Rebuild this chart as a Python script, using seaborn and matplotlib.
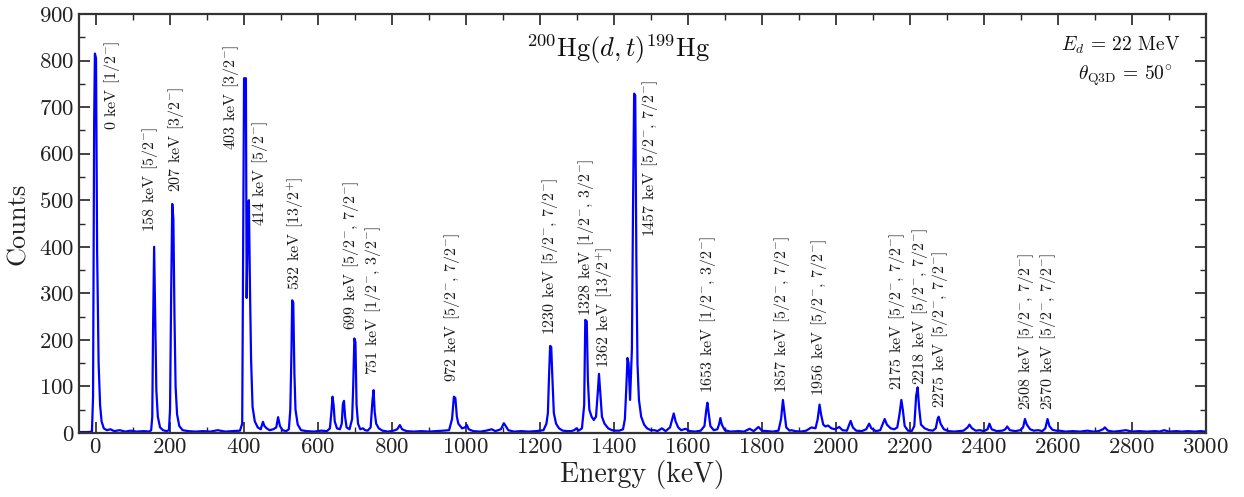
import numpy as np
import pandas as pd
import matplotlib
matplotlib.use("Agg")
import matplotlib.pyplot as plt
import seaborn as sns

# ---------------- data ----------------
energy_kev = [
    -45, -20, -10, -7, -4, -2, 1, 4, 8, 12, 16, 22, 30, 40, 50, 65, 80, 95, 110, 130, 145,
    150, 153, 155, 158, 161, 164, 168, 174, 182, 192,
    198, 201, 204, 207, 210, 213, 216, 220, 226, 235, 250, 270, 290, 310, 330, 350, 370, 390,
    396, 399, 401, 406, 408, 411, 414, 417, 420, 424, 430, 438, 446, 452, 456, 462, 470, 480, 488, 493, 498, 505, 515, 522,
    526, 529, 531, 534, 537, 540, 546, 555, 570, 590, 610, 625, 633,
    637, 640, 643, 646, 652, 660, 665, 668, 671, 674, 678, 686, 693, 696, 699, 702, 705, 709, 715, 722, 728, 735,
    743, 748, 751, 754, 758, 765, 775, 790, 805, 815, 822, 828, 840, 860, 880, 900, 920, 940, 955,
    963, 968, 972, 976, 980, 990, 998, 1003, 1008, 1020, 1040, 1055, 1070, 1080, 1095, 1103, 1108, 1115, 1130, 1150, 1170, 1190, 1210,
    1218, 1222, 1225, 1228, 1231, 1234, 1238, 1244, 1252, 1262, 1275, 1285, 1293, 1299, 1305, 1314,
    1320, 1323, 1327, 1330, 1334, 1340, 1346, 1352, 1357, 1360, 1364, 1368, 1375, 1385, 1395, 1405, 1415, 1425,
    1430, 1434, 1437, 1440, 1444, 1449, 1452, 1455, 1458, 1461, 1464, 1468, 1474, 1482, 1490, 1500, 1510, 1518, 1530, 1540,
    1552, 1558, 1562, 1567, 1574, 1582, 1594, 1605, 1620, 1635,
    1645, 1650, 1653, 1656, 1661, 1670, 1680, 1685, 1688, 1692, 1700, 1715, 1737, 1752, 1767, 1778, 1791, 1800, 1815, 1830, 1845,
    1852, 1857, 1861, 1866, 1875, 1880, 1890, 1905, 1920, 1934, 1945,
    1951, 1956, 1960, 1966, 1972, 1979, 1988, 1998, 2009, 2018, 2030, 2040, 2046, 2055, 2070, 2082, 2090, 2096, 2108, 2120, 2132, 2138, 2148, 2158, 2166,
    2172, 2177, 2181, 2186, 2195, 2205, 2212, 2217, 2221, 2225, 2230, 2240, 2252, 2262,
    2270, 2275, 2278, 2283, 2292, 2305, 2320, 2334, 2345, 2356, 2361, 2368, 2378, 2389, 2400, 2410, 2415, 2421, 2435, 2450, 2458, 2463, 2470, 2485, 2498,
    2506, 2511, 2516, 2525, 2535, 2547, 2558, 2566, 2572, 2577, 2585, 2595, 2604, 2620, 2640, 2660, 2680, 2695, 2710, 2722, 2727, 2735, 2750,
    2765, 2784, 2800, 2820, 2840, 2863, 2875, 2887, 2900, 2920, 2935, 2951, 2970, 2985, 3000,
]
counts = [
    2, 2, 3, 78, 672, 815, 805, 390, 150, 60, 25, 10, 6, 8, 4, 6, 3, 5, 3, 4, 3,
    6, 35, 215, 400, 253, 92, 35, 12, 6, 4,
    6, 50, 296, 492, 460, 250, 100, 40, 15, 6, 4, 3, 4, 3, 6, 3, 4, 5,
    20, 440, 762, 762, 290, 450, 500, 311, 157, 56, 25, 12, 8, 24, 15, 10, 6, 8, 12, 34, 15, 6, 4, 8,
    50, 171, 285, 280, 129, 50, 18, 6, 4, 3, 5, 4, 10,
    45, 78, 60, 25, 10, 8, 20, 62, 69, 35, 12, 8, 30, 103, 203, 195, 60, 20, 8, 10, 6, 5,
    12, 70, 92, 45, 20, 10, 5, 3, 5, 8, 17, 8, 4, 3, 4, 3, 4, 5, 6,
    30, 78, 75, 35, 20, 10, 12, 17, 8, 4, 3, 5, 8, 4, 8, 21, 15, 6, 3, 4, 3, 4, 6,
    20, 43, 121, 187, 185, 121, 43, 20, 10, 5, 4, 4, 6, 10, 5, 10,
    60, 243, 240, 114, 50, 35, 28, 35, 90, 127, 80, 35, 20, 10, 6, 5, 5, 8,
    30, 100, 161, 150, 71, 180, 485, 729, 725, 375, 150, 71, 35, 18, 10, 6, 6, 4, 10, 4,
    12, 30, 42, 25, 12, 6, 9, 4, 3, 5,
    15, 50, 65, 45, 15, 6, 8, 20, 32, 18, 6, 3, 4, 3, 9, 4, 13, 5, 4, 3, 5,
    30, 71, 45, 12, 5, 6, 4, 3, 5, 12, 10,
    30, 61, 40, 18, 14, 16, 10, 8, 13, 6, 5, 26, 12, 5, 4, 8, 20, 10, 4, 6, 30, 18, 10, 8, 12,
    40, 71, 50, 15, 5, 4, 15, 80, 98, 55, 18, 10, 6, 5,
    10, 30, 35, 20, 8, 4, 3, 4, 5, 12, 18, 10, 5, 6, 4, 8, 20, 8, 4, 5, 8, 14, 6, 4, 6,
    12, 30, 18, 8, 5, 6, 4, 10, 30, 15, 7, 5, 5, 3, 4, 3, 5, 3, 4, 8, 12, 5, 3,
    4, 6, 3, 4, 3, 4, 3, 6, 3, 4, 3, 4, 3, 4, 3,
]
assert len(energy_kev) == len(counts)

state_labels = [
    r"0 keV [1/2$^{-}$]",
    r"158 keV [5/2$^{-}$]",
    r"207 keV [3/2$^{-}$]",
    r"403 keV [3/2$^{-}$]",
    r"414 keV [5/2$^{-}$]",
    r"532 keV [13/2$^{+}$]",
    r"699 keV [5/2$^{-}$, 7/2$^{-}$]",
    r"751 keV [1/2$^{-}$, 3/2$^{-}$]",
    r"972 keV [5/2$^{-}$, 7/2$^{-}$]",
    r"1230 keV [5/2$^{-}$, 7/2$^{-}$]",
    r"1328 keV [1/2$^{-}$, 3/2$^{-}$]",
    r"1362 keV [13/2$^{+}$]",
    r"1457 keV [5/2$^{-}$, 7/2$^{-}$]",
    r"1653 keV [1/2$^{-}$, 3/2$^{-}$]",
    r"1857 keV [5/2$^{-}$, 7/2$^{-}$]",
    r"1956 keV [5/2$^{-}$, 7/2$^{-}$]",
    r"2175 keV [5/2$^{-}$, 7/2$^{-}$]",
    r"2218 keV [5/2$^{-}$, 7/2$^{-}$]",
    r"2275 keV [5/2$^{-}$, 7/2$^{-}$]",
    r"2508 keV [5/2$^{-}$, 7/2$^{-}$]",
    r"2570 keV [5/2$^{-}$, 7/2$^{-}$]",
]
label_energy = [43, 146, 216, 365, 443, 540, 689, 749, 962, 1227, 1324, 1376, 1497,
                1654, 1854, 1954, 2165, 2227, 2281, 2514, 2573]
label_count = [651, 432, 518, 608, 445, 307, 221, 125, 110, 210, 251, 140, 421,
               86, 86, 80, 92, 103, 54, 49, 49]

x_ticks = [0, 200, 400, 600, 800, 1000, 1200, 1400, 1600, 1800, 2000, 2200, 2400, 2600, 2800, 3000]
y_ticks = [0, 100, 200, 300, 400, 500, 600, 700, 800, 900]

# ---------------- style ----------------
sns.set_style("ticks")
plt.rcParams.update({
    "font.family": ["serif"],
    "font.serif": ["cmr10", "DejaVu Serif"],
    "mathtext.fontset": "cm",
    "axes.formatter.use_mathtext": True,
    "axes.unicode_minus": False,
    "xtick.direction": "in",
    "ytick.direction": "in",
    "xtick.top": True,
    "ytick.right": True,
    "axes.edgecolor": "#333333",
    "axes.linewidth": 1.6,
})

fig = plt.figure(figsize=(12.44, 4.97), dpi=100)
ax = fig.add_axes([0.0635, 0.1288, 0.9059, 0.843])

df = pd.DataFrame({"Energy": energy_kev, "Counts": counts})
sns.lineplot(data=df, x="Energy", y="Counts", ax=ax, color="#0000ff",
             linewidth=1.6, estimator=None, sort=False)

for txt, ex, cy in zip(state_labels, label_energy, label_count):
    ax.text(ex, cy, txt, rotation=90, ha="center", va="bottom", fontsize=11.5, color="#1a1a1a")

ax.text(0.478, 0.915, r"$^{200}$Hg$(d,t)^{199}$Hg", transform=ax.transAxes,
        ha="center", va="center", fontsize=19, color="#111111")
ax.text(0.977, 0.926, r"$E_d$ = 22 MeV", transform=ax.transAxes,
        ha="right", va="center", fontsize=14, color="#111111")
ax.text(0.970, 0.852, r"$\theta_{\mathrm{Q3D}}$ = 50$^{\circ}$", transform=ax.transAxes,
        ha="right", va="center", fontsize=14, color="#111111")

ax.set_xlim(-45, 3000)
ax.set_ylim(0, 900)
ax.set_xticks(x_ticks)
ax.set_yticks(y_ticks)
ax.set_xticks(np.arange(-0, 3001, 100), minor=True)
ax.set_yticks(np.arange(0, 901, 50), minor=True)
ax.tick_params(which="major", length=8, width=1.2, labelsize=16.5, colors="#222222")
ax.tick_params(which="minor", length=4, width=1.0)
ax.set_xlabel("Energy (keV)", fontsize=20, color="#222222", labelpad=2)
ax.set_ylabel("Counts", fontsize=19, color="#222222", labelpad=6)
for s in ax.spines.values():
    s.set_visible(True)

fig.savefig("out.png", dpi=100)
